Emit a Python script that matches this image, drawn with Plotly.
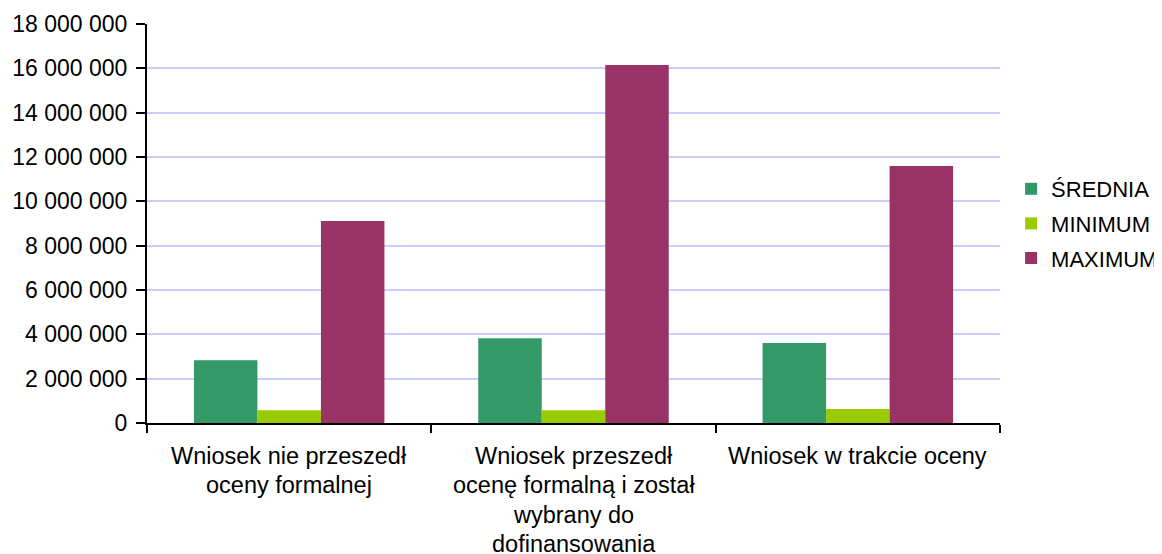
import plotly.graph_objects as go

categories = [
    "Wniosek nie przeszedł oceny formalnej",
    "Wniosek przeszedł ocenę formalną i został wybrany do dofinansowania",
    "Wniosek w trakcie oceny",
]
category_lines = [
    ["Wniosek nie przeszedł", "oceny formalnej"],
    ["Wniosek przeszedł", "ocenę formalną i został", "wybrany do", "dofinansowania"],
    ["Wniosek w trakcie oceny"],
]
srednia = [2830000, 3820000, 3610000]
minimum = [570000, 580000, 630000]
maximum = [9110000, 16150000, 11590000]

y_ticks = list(range(0, 18000001, 2000000))
y_tick_text = [f"{v:,}".replace(",", " ") for v in y_ticks]

FONT = "Liberation Sans, Arial, sans-serif"

fig = go.Figure()
for name, vals, color in [
    ("ŚREDNIA", srednia, "#339966"),
    ("MINIMUM", minimum, "#99cc00"),
    ("MAXIMUM", maximum, "#993366"),
]:
    fig.add_trace(go.Bar(x=categories, y=vals, name=name, marker_color=color,
                         marker_line_width=0, legendgroup=name))

# wielowierszowe etykiety kategorii (większy odstęp niż w tickach)
for cat, lines in zip(categories, category_lines):
    for i, line in enumerate(lines):
        fig.add_annotation(x=cat, y=0, xref="x", yref="paper", text=line,
                           showarrow=False, yanchor="middle",
                           yshift=-33 - i * 29.4,
                           font=dict(family=FONT, size=23.5, color="#000000"))

# strona ma margines 8 px - marginesy wykresu są przesunięte o 8 px
fig.update_layout(
    width=1162, height=554,
    margin=dict(l=139, r=170, t=16, b=139, autoexpand=False),
    plot_bgcolor="white", paper_bgcolor="white",
    barmode="group", bargap=0.33, bargroupgap=0,
    font=dict(family=FONT, size=23, color="#000000"),
    legend=dict(x=1.013, y=0.5, yanchor="middle", xanchor="left",
                font=dict(size=22), tracegroupgap=3, itemwidth=30),
    showlegend=True,
)
fig.update_xaxes(showticklabels=False, tickson="boundaries", ticks="outside",
                 ticklen=8, tickwidth=2, tickcolor="black", automargin=False,
                 showline=True, linecolor="black", linewidth=2, showgrid=False)
fig.update_yaxes(range=[0, 18000000], tickvals=y_ticks, ticktext=y_tick_text,
                 ticks="outside", ticklen=9, tickwidth=2, tickcolor="black",
                 ticklabelstandoff=4, automargin=False,
                 showline=True, linecolor="black", linewidth=2,
                 gridcolor="#ccccff", gridwidth=1.5, zeroline=False)

fig.write_html("out.html")
